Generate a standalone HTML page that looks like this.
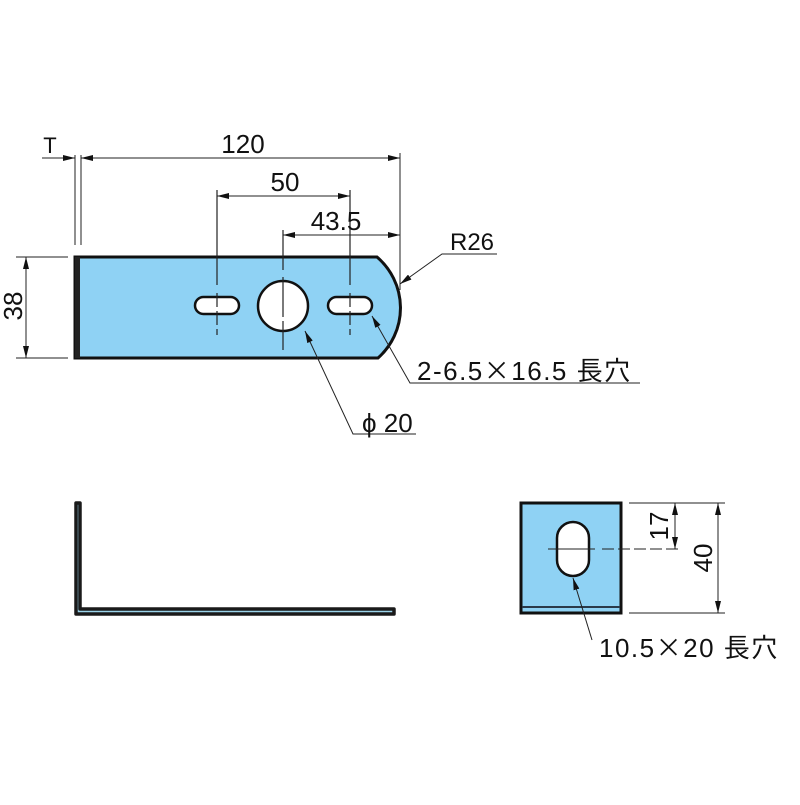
<!DOCTYPE html>
<html><head><meta charset="utf-8"><style>
html,body{margin:0;padding:0;background:#fff;}
svg text{font-family:"Liberation Sans","Noto Sans CJK JP",sans-serif;fill:#111;}
.x{font-family:"Noto Sans CJK JP",sans-serif;}
</style></head><body>
<svg width="800" height="800" viewBox="0 0 800 800" xmlns="http://www.w3.org/2000/svg">
<defs>
<marker id="a" viewBox="0 0 12 6" refX="12" refY="3" markerWidth="12" markerHeight="6" orient="auto-start-reverse" markerUnits="userSpaceOnUse"><path d="M0,0L12,3L0,6z" fill="#111"/></marker>
</defs>
<rect width="800" height="800" fill="#fff"/>
<!-- main plate -->
<path d="M75,257 L377,257 A67,67 0 0 1 378,358 L75,358 Z" fill="#8fd2f4" stroke="#111" stroke-width="3"/>
<rect x="75" y="257" width="5" height="101" fill="#222"/>
<!-- slots and hole -->
<rect x="195" y="297" width="44" height="17" rx="8.5" fill="#fff" stroke="#111" stroke-width="2.5"/>
<rect x="328" y="297" width="44" height="17" rx="8.5" fill="#fff" stroke="#111" stroke-width="2.5"/>
<circle cx="283" cy="306" r="25" fill="#fff" stroke="#111" stroke-width="2.5"/>
<!-- center lines -->
<g stroke="#222" stroke-width="1.2">
<line x1="217" y1="190" x2="217" y2="285"/><line x1="217" y1="293" x2="217" y2="335" stroke-dasharray="14,4"/>
<line x1="350" y1="190" x2="350" y2="285"/><line x1="350" y1="293" x2="350" y2="335" stroke-dasharray="14,4"/>
<line x1="283" y1="230" x2="283" y2="270"/><line x1="283" y1="277" x2="283" y2="350" stroke-dasharray="40,4"/>
</g>
<!-- dimensions -->
<g stroke="#222" stroke-width="1">
<line x1="75" y1="155" x2="75" y2="245"/><line x1="81" y1="155" x2="81" y2="245"/>
<line x1="400" y1="153" x2="400" y2="290"/>
<line x1="42" y1="158" x2="75" y2="158" marker-end="url(#a)"/>
<line x1="81" y1="158" x2="400" y2="158" marker-start="url(#a)" marker-end="url(#a)"/>
<line x1="217" y1="196" x2="350" y2="196" marker-start="url(#a)" marker-end="url(#a)"/>
<line x1="283" y1="235" x2="400" y2="235" marker-start="url(#a)" marker-end="url(#a)"/>
<line x1="16" y1="257" x2="68" y2="257"/><line x1="16" y1="358" x2="68" y2="358"/>
<line x1="26" y1="257" x2="26" y2="358" marker-start="url(#a)" marker-end="url(#a)"/>
<!-- leaders -->
<polyline points="497,254 442,254 400,284" fill="none" marker-end="url(#a)"/>
<polyline points="640,383 410,383 372,316" fill="none" marker-end="url(#a)"/>
<polyline points="416,434 353,434 305,331" fill="none" marker-end="url(#a)"/>
</g>
<text x="50" y="153" font-size="22" text-anchor="middle">T</text>
<text x="243" y="153" font-size="26" text-anchor="middle">120</text>
<text x="285" y="191" font-size="26" text-anchor="middle">50</text>
<text x="336" y="230" font-size="26" text-anchor="middle">43.5</text>
<text x="472" y="250" font-size="24" text-anchor="middle">R26</text>
<text transform="translate(22,306) rotate(-90)" font-size="26" text-anchor="middle">38</text>
<text x="417" y="380" font-size="26" letter-spacing="1.5">2-6.5<tspan class="x">×</tspan>16.5 長穴</text>
<text x="362" y="432" font-size="26">ϕ 20</text>
<!-- L shape -->
<path d="M76,503 L76,614 L394,614 L394,609 L80,609 L80,503 Z" fill="#9bd3ea" stroke="#1a1a1a" stroke-width="3.5" stroke-linejoin="round"/>
<!-- side view -->
<rect x="521" y="503" width="100" height="110" fill="#8fd2f4" stroke="#111" stroke-width="3"/>
<line x1="522" y1="607" x2="620" y2="607" stroke="#2a3a4a" stroke-width="2"/>
<rect x="557" y="522" width="32" height="54" rx="16" fill="#fff" stroke="#111" stroke-width="2.5"/>
<g stroke="#222" stroke-width="1">
<line x1="548" y1="549" x2="595" y2="549"/><line x1="602" y1="549" x2="678" y2="549" stroke-dasharray="12,4"/>
<line x1="629" y1="503" x2="725" y2="503"/><line x1="629" y1="613" x2="725" y2="613"/>
<line x1="675" y1="503" x2="675" y2="549" marker-start="url(#a)" marker-end="url(#a)"/>
<line x1="718" y1="503" x2="718" y2="613" marker-start="url(#a)" marker-end="url(#a)"/>
<line x1="592" y1="640" x2="573" y2="578" marker-end="url(#a)"/>
</g>
<text transform="translate(668,526) rotate(-90)" font-size="26" text-anchor="middle">17</text>
<text transform="translate(712,558) rotate(-90)" font-size="26" text-anchor="middle">40</text>
<text x="599" y="657" font-size="26" letter-spacing="1.5">10.5<tspan class="x">×</tspan>20 長穴</text>
</svg>
</body></html>
